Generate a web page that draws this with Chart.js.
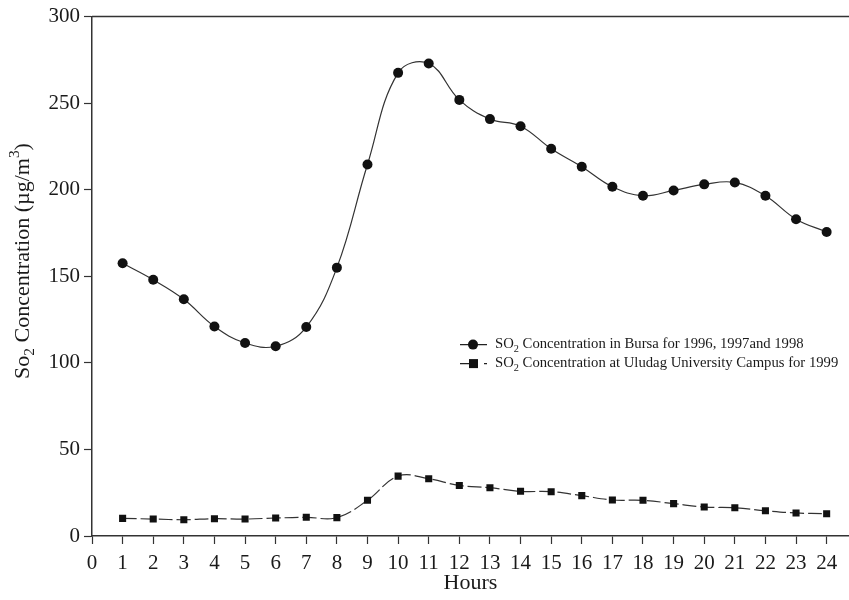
<!DOCTYPE html>
<html>
<head>
<meta charset="utf-8">
<script src="https://cdn.jsdelivr.net/npm/chart.js@4.4.1/dist/chart.umd.min.js"></script>
<style>
  html, body { margin: 0; padding: 0; background: #fff; }
  #wrap { width: 849px; height: 600px; }
</style>
</head>
<body>
<div id="wrap"><canvas id="chart" width="849" height="600"></canvas></div>
<script>
// values
var hours = [1, 2, 3, 4, 5, 6, 7, 8, 9, 10, 11, 12, 13, 14, 15, 16, 17, 18, 19, 20, 21, 22, 23, 24];
var bursa = [157.5, 148, 136.7, 121, 111.5, 109.6, 120.7, 155, 214.6, 267.5, 272.9, 251.9,
             240.8, 236.7, 223.7, 213.3, 201.7, 196.5, 199.6, 203.1, 204.2, 196.5, 183, 175.6];
var campus = [10.2, 9.8, 9.4, 10, 9.8, 10.4, 10.8, 10.6, 20.6, 34.6, 33.1, 29.2,
              27.9, 25.8, 25.6, 23.3, 20.8, 20.6, 18.7, 16.7, 16.3, 14.6, 13.3, 12.9];
var xTicks = [0, 1, 2, 3, 4, 5, 6, 7, 8, 9, 10, 11, 12, 13, 14, 15, 16, 17, 18, 19, 20, 21, 22, 23, 24];
var yTicks = [0, 50, 100, 150, 200, 250, 300];

var FONT = '"Liberation Serif", "Times New Roman", serif';
var INK = '#1a1a1a';

function pts(ys) {
    return hours.map(function(h, i) { return {x: h, y: ys[i]}; });
}

// draws a string made of parts, some of them sub/superscript
function drawRich(ctx, parts, x, y, size, align) {
    var total = 0;
    parts.forEach(function(p) {
        ctx.font = (p.sub || p.sup ? size * 0.7 : size) + 'px ' + FONT;
        p.w = ctx.measureText(p.t).width;
        total += p.w;
    });
    var cx = align === 'center' ? x - total / 2 : x;
    parts.forEach(function(p) {
        ctx.font = (p.sub || p.sup ? size * 0.7 : size) + 'px ' + FONT;
        var dy = p.sub ? size * 0.3 : (p.sup ? -size * 0.38 : 0);
        ctx.fillText(p.t, cx, y + dy);
        cx += p.w;
    });
}

var extras = {
    id: 'extras',
    afterDraw: function(chart) {
        var ctx = chart.ctx;
        var a = chart.chartArea;
        ctx.save();
        // top frame line
        ctx.strokeStyle = '#333';
        ctx.lineWidth = 1.5;
        ctx.beginPath();
        ctx.moveTo(a.left, a.top);
        ctx.lineTo(a.right, a.top);
        ctx.stroke();

        ctx.fillStyle = INK;
        ctx.textBaseline = 'middle';

        // x title
        ctx.font = '22px ' + FONT;
        ctx.textAlign = 'center';
        ctx.fillText('Hours', (a.left + a.right) / 2, 583);

        // y title, rotated
        ctx.textAlign = 'left';
        ctx.save();
        ctx.translate(23, 261);
        ctx.rotate(-Math.PI / 2);
        drawRich(ctx, [{t: 'So'}, {t: '2', sub: true}, {t: ' Concentration (µg/m'}, {t: '3', sup: true}, {t: ')'}], 0, 0, 22, 'center');
        ctx.restore();

        // legend
        var lx = a.left + 368;
        var rows = [a.top + 328, a.top + 347];
        ctx.strokeStyle = '#222';
        ctx.lineWidth = 1.2;
        ctx.beginPath();
        ctx.moveTo(lx, rows[0]); ctx.lineTo(lx + 27, rows[0]);
        ctx.moveTo(lx, rows[1]); ctx.lineTo(lx + 18, rows[1]);
        ctx.moveTo(lx + 24, rows[1]); ctx.lineTo(lx + 27, rows[1]);
        ctx.stroke();
        ctx.fillStyle = '#111';
        ctx.beginPath();
        ctx.arc(lx + 13, rows[0], 5, 0, Math.PI * 2);
        ctx.fill();
        ctx.fillRect(lx + 9, rows[1] - 4.5, 9, 9);

        ctx.fillStyle = INK;
        drawRich(ctx, [{t: 'SO'}, {t: '2', sub: true}, {t: ' Concentration in Bursa for 1996, 1997and 1998'}], lx + 35, rows[0], 14.7);
        drawRich(ctx, [{t: 'SO'}, {t: '2', sub: true}, {t: ' Concentration at Uludag University Campus for 1999'}], lx + 35, rows[1], 14.7);
        ctx.restore();
    }
};

var ctx = document.getElementById('chart');
var chart = new Chart(ctx, {
    type: 'line',
    data: {
        datasets: [{
            label: 'SO2 Concentration in Bursa for 1996, 1997and 1998',
            data: pts(bursa),
            borderColor: '#333',
            borderWidth: 1.2,
            tension: 0.4,
            pointStyle: 'circle',
            pointRadius: 5,
            pointBackgroundColor: '#111',
            pointBorderColor: '#111',
            pointBorderWidth: 0
        }, {
            label: 'SO2 Concentration at Uludag University Campus for 1999',
            data: pts(campus),
            borderColor: '#333',
            borderWidth: 1.2,
            borderDash: [14, 4],
            tension: 0.4,
            pointStyle: 'rect',
            pointRadius: 5,
            pointBackgroundColor: '#111',
            pointBorderColor: '#111',
            pointBorderWidth: 0
        }]
    },
    options: {
        responsive: false,
        animation: false,
        devicePixelRatio: 1,
        layout: { autoPadding: false, padding: { top: 15, right: 0, left: 0, bottom: 0 } },
        plugins: { legend: { display: false }, tooltip: { enabled: false } },
        scales: {
            x: {
                type: 'linear',
                min: 0,
                max: 24.73,
                afterBuildTicks: function(s) { s.ticks = xTicks.map(function(v) { return {value: v}; }); },
                afterFit: function(s) { s.height = 64; },
                grid: { drawOnChartArea: false, tickLength: 8, color: '#333', tickWidth: 1.2 },
                border: { color: '#333', width: 1.5 },
                ticks: { color: INK, font: { family: FONT, size: 21 }, padding: 7, maxRotation: 0, autoSkip: false }
            },
            y: {
                min: 0,
                max: 300,
                afterBuildTicks: function(s) { s.ticks = yTicks.map(function(v) { return {value: v}; }); },
                afterFit: function(s) { s.width = 92; },
                grid: { drawOnChartArea: false, tickLength: 8, color: '#333', tickWidth: 1.2 },
                border: { color: '#333', width: 1.5 },
                ticks: { color: INK, font: { family: FONT, size: 21 }, padding: 4 }
            }
        }
    },
    plugins: [extras]
});
</script>
</body>
</html>
